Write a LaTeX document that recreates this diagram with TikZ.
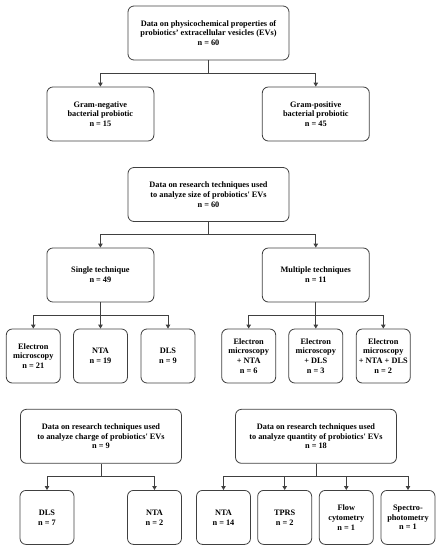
\documentclass[tikz,border=0pt]{standalone}
\usepackage{fontspec}
\setmainfont{Liberation Serif}
\usetikzlibrary{arrows.meta,calc}
\definecolor{linec}{HTML}{404040}
\tikzset{
  box/.style={draw=linec, line width=0.8pt, rounded corners=6pt, align=center,
    font=\bfseries\fontsize{8.3}{9.8}\selectfont, inner sep=0pt, minimum height=54pt, text=black},
  wide/.style={box, minimum width=161pt},
  mid/.style={box, minimum width=107pt},
  leaf/.style={box, minimum width=54pt},
  conn/.style={draw=linec, line width=0.8pt},
  arr/.style={conn, -{Triangle[length=4pt,width=4.5pt]}}
}
\begin{document}
\begin{tikzpicture}[x=1pt,y=-1pt]
\useasboundingbox (0,0) rectangle (440,550);
% section 1
\node[wide] (top) at (208.5,33) {Data on physicochemical properties of\\probiotics' extracellular vesicles (EVs)\\n = 60};
\node[mid] (gneg) at (100.4,114) {Gram-negative\\bacterial probiotic\\n = 15};
\node[mid] (gpos) at (315.8,114) {Gram-positive\\bacterial probiotic\\n = 45};
\coordinate (j1) at (208.5,73);
\draw[conn] (top.south) -- (j1);
\draw[arr] (j1) -| (gneg.north);
\draw[arr] (j1) -| (gpos.north);
% section 2
\node[wide] (size) at (208.5,194.5) {Data on research techniques used\\to analyze size of probiotics\textquotesingle{} EVs\\n = 60};
\node[mid] (single) at (100.4,275) {Single technique\\n = 49};
\node[mid] (multi) at (315.8,275) {Multiple techniques\\n = 11};
\coordinate (j2) at (208.5,234.3);
\draw[conn] (size.south) -- (j2);
\draw[arr] (j2) -| (single.north);
\draw[arr] (j2) -| (multi.north);
\node[leaf] (em) at (33.3,356) {Electron\\microscopy\\n = 21};
\node[leaf] (nta1) at (100.5,356) {NTA\\n = 19};
\node[leaf] (dls1) at (168,356) {DLS\\n = 9};
\coordinate (j3) at (100.4,315);
\draw[conn] (single.south) -- (j3);
\draw[arr] (j3) -| (em.north);
\draw[arr] (j3) -- (nta1.north);
\draw[arr] (j3) -| (dls1.north);
\node[leaf] (emnta) at (248.7,356) {Electron\\microscopy\\+ NTA\\n = 6};
\node[leaf] (emdls) at (315.8,356) {Electron\\microscopy\\+ DLS\\n = 3};
\node[leaf] (emall) at (383.3,356) {Electron\\microscopy\\+ NTA + DLS\\n = 2};
\coordinate (j4) at (315.8,315);
\draw[conn] (multi.south) -- (j4);
\draw[arr] (j4) -| (emnta.north);
\draw[arr] (j4) -- (emdls.north);
\draw[arr] (j4) -| (emall.north);
% section 3
\node[wide] (charge) at (101,436.3) {Data on research techniques used\\to analyze charge of probiotics\textquotesingle{} EVs\\n = 9};
\node[leaf] (dls2) at (47,517.4) {DLS\\n = 7};
\node[leaf] (nta2) at (154.5,517.4) {NTA\\n = 2};
\coordinate (j5) at (101,476.7);
\draw[conn] (charge.south) -- (j5);
\draw[arr] (j5) -| (dls2.north);
\draw[arr] (j5) -| (nta2.north);
% section 4
\node[wide] (quant) at (316,436.3) {Data on research techniques used\\to analyze quantity of probiotics\textquotesingle{} EVs\\n = 18};
\node[leaf] (nta3) at (223.5,517.4) {NTA\\n = 14};
\node[leaf] (tprs) at (284.7,517.4) {TPRS\\n = 2};
\node[leaf] (flow) at (346.3,517.4) {Flow\\cytometry\\n = 1};
\node[leaf] (spec) at (408,517.4) {Spectro-\\photometry\\n = 1};
\coordinate (j6) at (316,476.7);
\draw[conn] (quant.south) -- (j6);
\draw[arr] (j6) -| (nta3.north);
\draw[arr] (j6) -| (tprs.north);
\draw[arr] (j6) -| (flow.north);
\draw[arr] (j6) -| (spec.north);
\end{tikzpicture}
\end{document}
